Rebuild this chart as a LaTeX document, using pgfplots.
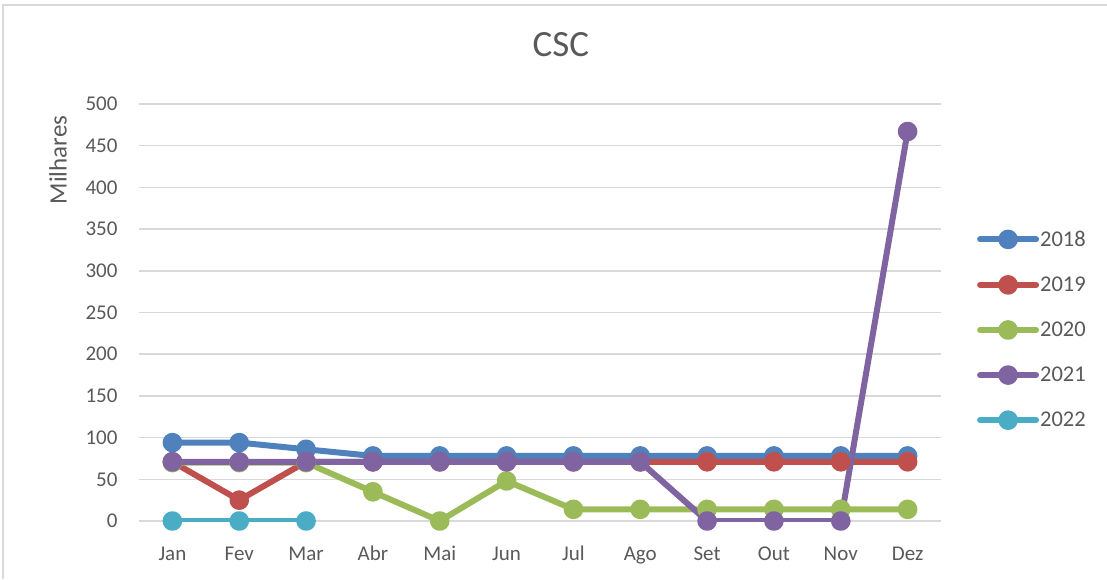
\documentclass[border=0pt]{standalone}
\usepackage{pgfplots}
\pgfplotsset{compat=1.18}
\usepackage{fontspec}
\setmainfont{Carlito}
\definecolor{c18}{HTML}{4F81BD}
\definecolor{c19}{HTML}{C0504D}
\definecolor{c20}{HTML}{9BBB59}
\definecolor{c21}{HTML}{8064A2}
\definecolor{c22}{HTML}{4BACC6}
\definecolor{txt}{HTML}{595959}
\definecolor{grd}{HTML}{D9D9D9}
\begin{document}
\begin{tikzpicture}[x=1pt,y=1pt]
\useasboundingbox (0,0) rectangle (1107,579);
\draw[grd, line width=1.5pt] (3,0) -- (3,574) -- (1107,574);
\begin{axis}[
  at={(139pt,58pt)}, anchor=south west,
  scale only axis, width=802pt, height=417pt,
  xmin=-0.5, xmax=11.5, ymin=0, ymax=500,
  xtick={0,...,11},
  xticklabels={Jan,Fev,Mar,Abr,Mai,Jun,Jul,Ago,Set,Out,Nov,Dez},
  ytick={0,50,...,500},
  ymajorgrids, grid style={grd, line width=1.5pt},
  axis line style={draw=none},
  major tick length=0pt,
  /pgf/number format/assume math mode=true,
  tick label style={font=\fontsize{21}{25}\selectfont, text=txt},
  yticklabel style={xshift=-18pt},
  xticklabel style={anchor=base, yshift=-39pt},
  ylabel={Milhares},
  ylabel style={at={(axis description cs:-0.101,0.866)}, rotate=0, anchor=center, font=\fontsize{25}{30}\selectfont, text=txt},
  title={CSC},
  title style={at={(axis description cs:0.526,1)}, anchor=base, yshift=41pt, font=\fontsize{37}{44}\selectfont, text=txt},
  every axis plot/.append style={line width=6pt, line cap=round, line join=round, mark=*, mark size=6.8pt, mark options={solid}},
  legend style={draw=none, fill=none, at={(axis description cs:1.041,0.459)}, anchor=west,
    font=\fontsize{22.5}{27}\selectfont, text=txt, row sep=27pt,
    nodes={inner sep=1pt}},
  legend cell align=left,
  legend image code/.code={\draw[#1, mark=none] (0pt,0pt) -- (56pt,0pt);
     \draw[#1, mark repeat=2, mark phase=2, draw=none] plot coordinates {(0pt,0pt) (28pt,0pt) (56pt,0pt)};},
]
\addplot[c18, mark options={fill=c18}] coordinates {(0,94) (1,94) (2,86) (3,78) (4,78) (5,78) (6,78) (7,78) (8,78) (9,78) (10,78) (11,78)};
\addlegendentry{2018}
\addplot[c19, mark options={fill=c19}] coordinates {(0,71) (1,25) (2,71) (3,71) (4,71) (5,71) (6,71) (7,71) (8,71) (9,71) (10,71) (11,71)};
\addlegendentry{2019}
\addplot[c20, mark options={fill=c20}] coordinates {(0,70) (1,70) (2,70) (3,35) (4,0) (5,48) (6,14) (7,14) (8,14) (9,14) (10,14) (11,14)};
\addlegendentry{2020}
\addplot[c21, mark options={fill=c21}] coordinates {(0,71) (1,71) (2,71) (3,71) (4,71) (5,71) (6,71) (7,71) (8,0) (9,0) (10,0) (11,467)};
\addlegendentry{2021}
\addplot[c22, mark options={fill=c22}] coordinates {(0,0) (1,0) (2,0)};
\addlegendentry{2022}
\end{axis}
\end{tikzpicture}
\end{document}
